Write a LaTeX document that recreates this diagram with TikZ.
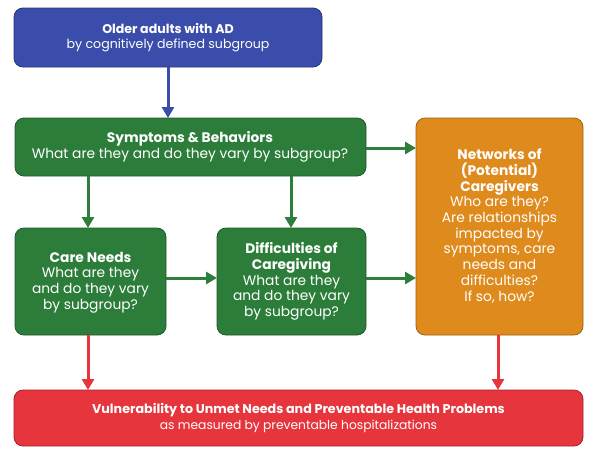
\documentclass[tikz,border=0pt]{standalone}
\usepackage{fontspec}
\setmainfont{Poppins}
\usetikzlibrary{arrows.meta}
\definecolor{cblue}{HTML}{3A4DAA}
\definecolor{cgreen}{HTML}{2D7D3A}
\definecolor{corange}{HTML}{DF8A1C}
\definecolor{cred}{HTML}{E6353D}
\definecolor{cgreenline}{HTML}{2E7F3C}
\begin{document}
\begin{tikzpicture}[x=1pt,y=-1pt,
  box/.style={draw=#1!70!black,line width=0.8pt,fill=#1,rounded corners=9pt,text=white},
  txt/.style={text=white,align=center,font=\fontsize{13.8}{15.7}\selectfont},
  conn/.style={line width=3pt,draw=#1,-{Triangle[length=11pt,width=12pt]},shorten >=0pt}]
\useasboundingbox (0,0) rectangle (597,459);
% boxes
\draw[box=cblue] (14,8) rectangle (322,67);
\node[txt,font=\fontsize{12.6}{15.7}\selectfont] (older) at (168,37.5) {\textbf{Older adults with AD}\\by cognitively defined subgroup};
\coordinate (olderS) at (168,67);
\draw[box=cgreen] (15,118) rectangle (366,176);
\node[txt] (symp) at (190,147) {\textbf{Symptoms \& Behaviors}\\What are they and do they vary by subgroup?};
\draw[box=cgreen] (15,228) rectangle (166,335);
\node[txt] (care) at (90.5,282.5) {\textbf{Care Needs}\\What are they\\and do they vary\\by subgroup?};
\draw[box=cgreen] (217,228) rectangle (366,335);
\node[txt] (diff) at (291.5,281.5) {\textbf{Difficulties of}\\\textbf{Caregiving}\\What are they\\and do they vary\\by subgroup?};
\draw[box=corange] (416,118) rectangle (583,335);
\node[txt] (net) at (499.5,226) {\textbf{Networks of}\\\textbf{(Potential)}\\\textbf{Caregivers}\\Who are they?\\Are relationships\\impacted by\\symptoms, care\\needs and\\difficulties?\\If so, how?};
\draw[box=cred] (14,390) rectangle (583,446);
\node[txt,font=\fontsize{12.3}{15.7}\selectfont] (vul) at (298.5,418) {{\fontsize{12.7}{15.7}\selectfont\textbf{Vulnerability to Unmet Needs and Preventable Health Problems}}\\as measured by preventable hospitalizations};
% anchor coordinates
\coordinate (sympN) at (168,118);
\coordinate (sympE) at (366,148);
\coordinate (sympS1) at (88,176);
\coordinate (sympS2) at (291,176);
\coordinate (careN) at (88,228);
\coordinate (careE) at (166,278);
\coordinate (careS) at (88,335);
\coordinate (diffN) at (291,228);
\coordinate (diffW) at (217,278);
\coordinate (diffE) at (366,278);
\coordinate (netW1) at (416,148);
\coordinate (netW2) at (416,278);
\coordinate (netS) at (498,335);
\coordinate (vulN1) at (88,390);
\coordinate (vulN2) at (498,390);
% connectors
\draw[conn=cblue] (olderS) -- (sympN);
\draw[conn=cgreenline] (sympE) -- (netW1);
\draw[conn=cgreenline] (sympS1) -- (careN);
\draw[conn=cgreenline] (sympS2) -- (diffN);
\draw[conn=cgreenline] (careE) -- (diffW);
\draw[conn=cgreenline] (diffE) -- (netW2);
\draw[conn=cred] (careS) -- (vulN1);
\draw[conn=cred] (netS) -- (vulN2);
\end{tikzpicture}
\end{document}
